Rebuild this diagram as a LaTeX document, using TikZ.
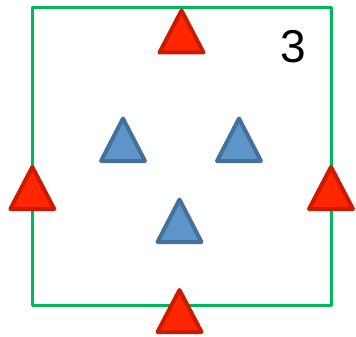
\documentclass[tikz,border=0pt]{standalone}
\usepackage{fontspec}
\setmainfont{Liberation Sans}
\usepackage{tikz}
\usepackage{xcolor}
\definecolor{boxgreen}{HTML}{00B85C}
\definecolor{redfill}{HTML}{FF2600}
\definecolor{redline}{HTML}{CC1A00}
\definecolor{bluefill}{HTML}{5E95C9}
\definecolor{blueline}{HTML}{44709C}

\begin{document}
\begin{tikzpicture}[x=1pt, y=-1pt,
    frame/.style={draw=boxgreen, line width=3pt, line join=round},
    redtri/.style={draw=redline, fill=redfill, line width=4pt, line join=round},
    bluetri/.style={draw=blueline, fill=bluefill, line width=4pt, line join=round},
    label/.style={inner sep=0pt, font=\fontsize{46}{46}\selectfont},
]
    \useasboundingbox (0,0) rectangle (356,337);
    % green square
    \draw[frame] (32,7.5) rectangle (331.5,305.5);
    % red triangles on the border
    \foreach \x/\y in {181.5/10.5, 32.3/167, 331/167, 179.5/290}
        \draw[redtri] (\x,\y) -- ++(22,42) -- ++(-44,0) -- cycle;
    % blue triangles inside
    \foreach \x/\y in {123/118.5, 239/118.5, 179.5/199.5}
        \draw[bluetri] (\x,\y) -- ++(22,42.5) -- ++(-44,0) -- cycle;
    \node[label] (num) at (293,47) {3};
\end{tikzpicture}
\end{document}
